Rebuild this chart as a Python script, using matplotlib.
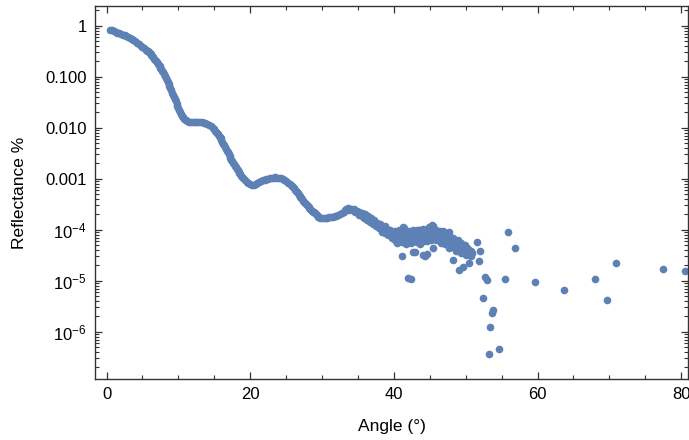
import numpy as np
import matplotlib
matplotlib.use("Agg")
import matplotlib.pyplot as plt
from matplotlib.ticker import FixedLocator, FixedFormatter, LogLocator, NullFormatter, MultipleLocator

plt.rcParams['font.family'] = ['Liberation Sans', 'DejaVu Sans']
plt.rcParams['mathtext.fontset'] = 'custom'
plt.rcParams['mathtext.rm'] = 'Liberation Sans'
plt.rcParams['mathtext.it'] = 'Liberation Sans:italic'
plt.rcParams['mathtext.default'] = 'regular'

# ---- smooth part of the reflectivity curve (angle in degrees, log10 reflectance) ----
curve_angle = [0.50, 0.75, 1.00, 1.25, 1.50, 1.75, 2.00, 2.25, 2.50, 2.75,
               3.00, 3.25, 3.50, 3.75, 4.00, 4.25, 4.50, 4.75, 5.00, 5.25,
               5.50, 5.75, 6.00, 6.25, 6.50, 6.75, 7.00, 7.25, 7.50, 7.75,
               8.00, 8.25, 8.50, 8.75, 9.00, 9.25, 9.50, 9.75, 10.00, 10.25,
               10.50, 10.75, 11.00, 11.25, 11.50, 11.75, 12.00, 12.25, 12.50, 12.75,
               13.00, 13.25, 13.50, 13.75, 14.00, 14.25, 14.50, 14.75, 15.00, 15.25,
               15.50, 15.75, 16.00, 16.25, 16.50, 16.75, 17.00, 17.25, 17.50, 17.75,
               18.00, 18.25, 18.50, 18.75, 19.00, 19.25, 19.50, 19.75, 20.00, 20.25,
               20.50, 20.75, 21.00, 21.25, 21.50, 21.75, 22.00, 22.25, 22.50, 22.75,
               23.00, 23.25, 23.50, 23.75, 24.00, 24.25, 24.50, 24.75, 25.00, 25.25,
               25.50, 25.75, 26.00, 26.25, 26.50, 26.75, 27.00, 27.25, 27.50, 27.75,
               28.00, 28.25, 28.50, 28.75, 29.00, 29.25, 29.50, 29.75, 30.00, 30.25,
               30.50, 30.75, 31.00, 31.25, 31.50, 31.75, 32.00, 32.25, 32.50, 32.75,
               33.00,
               5.625, 5.875, 6.125, 6.375, 6.625, 6.875, 7.125, 7.375, 7.625, 7.875,
               8.125, 8.375, 8.625, 8.875, 9.125, 9.375, 9.625, 9.875, 10.125, 10.375,
               10.625,
               15.125, 15.375, 15.625, 15.875, 16.125, 16.375, 16.625, 16.875, 17.125, 17.375,
               17.625, 17.875, 18.125, 18.375, 18.625, 18.875,
               25.875, 26.125, 26.375, 26.625, 26.875, 27.125, 27.375, 27.625, 27.875, 28.125,
               28.375, 28.625, 28.875, 29.125, 29.375]
curve_logR = [-0.075, -0.088, -0.100, -0.118, -0.135, -0.150, -0.165, -0.178, -0.190, -0.205,
              -0.220, -0.242, -0.265, -0.288, -0.310, -0.335, -0.360, -0.390, -0.420, -0.445,
              -0.470, -0.505, -0.540, -0.580, -0.620, -0.670, -0.720, -0.770, -0.820, -0.885,
              -0.950, -1.025, -1.100, -1.185, -1.270, -1.355, -1.440, -1.530, -1.620, -1.700,
              -1.770, -1.820, -1.850, -1.870, -1.880, -1.884, -1.885, -1.886, -1.887, -1.888,
              -1.890, -1.895, -1.900, -1.915, -1.930, -1.950, -1.970, -2.000, -2.030, -2.080,
              -2.130, -2.185, -2.240, -2.310, -2.380, -2.450, -2.520, -2.590, -2.660, -2.720,
              -2.780, -2.835, -2.890, -2.940, -2.990, -3.025, -3.060, -3.085, -3.110, -3.118,
              -3.120, -3.105, -3.090, -3.070, -3.050, -3.035, -3.020, -3.010, -3.000, -2.990,
              -2.980, -2.977, -2.975, -2.977, -2.980, -2.995, -3.010, -3.030, -3.050, -3.075,
              -3.100, -3.135, -3.170, -3.215, -3.260, -3.310, -3.360, -3.405, -3.450, -3.490,
              -3.530, -3.570, -3.610, -3.645, -3.680, -3.715, -3.750, -3.765, -3.780, -3.775,
              -3.770, -3.765, -3.760, -3.755, -3.750, -3.740, -3.730, -3.715, -3.700, -3.680,
              -3.660,
              -0.490, -0.520, -0.560, -0.600, -0.645, -0.695, -0.745, -0.795, -0.850, -0.915,
              -0.985, -1.060, -1.140, -1.225, -1.310, -1.395, -1.485, -1.575, -1.660, -1.735,
              -1.795,
              -2.055, -2.105, -2.155, -2.210, -2.275, -2.345, -2.415, -2.485, -2.555, -2.625,
              -2.690, -2.750, -2.810, -2.860, -2.915, -2.965,
              -3.150, -3.190, -3.240, -3.285, -3.335, -3.380, -3.430, -3.470, -3.510, -3.550,
              -3.590, -3.630, -3.660, -3.700, -3.730]

# ---- noisy part, 33-51 degrees ----
noisy_angle = [33.2, 33.4, 33.6, 33.8, 34.0, 34.2, 34.4, 34.6, 34.8, 35.0,
               35.2, 35.4, 35.6, 35.8, 36.0, 36.2, 36.4, 36.6, 36.8, 37.0,
               37.2, 37.4, 37.6, 37.8, 38.0,
               35.1, 35.5, 35.9, 36.3, 36.7, 37.1, 37.5, 37.9,
               38.1, 38.2, 38.3, 38.4, 38.5, 38.6, 38.7, 38.8, 38.9, 39.0,
               39.1, 39.2, 39.3, 39.4, 39.5, 39.6, 39.7, 39.8, 39.9, 40.0,
               40.1, 40.2, 40.3, 40.4, 40.5, 40.6, 40.7, 40.8, 40.9, 41.0,
               41.1, 41.2, 41.3, 41.4, 41.5, 41.6, 41.7, 41.8, 41.9, 42.0,
               42.1, 42.2, 42.3, 42.4, 42.5, 42.6, 42.7, 42.8, 42.9, 43.0,
               43.1, 43.2, 43.3, 43.4, 43.5, 43.6, 43.7, 43.8, 43.9, 44.0,
               44.1, 44.2, 44.3, 44.4, 44.5, 44.6, 44.7, 44.8, 44.9, 45.0,
               45.1, 45.2, 45.3, 45.4, 45.5, 45.6, 45.7, 45.8, 45.9, 46.0,
               46.1, 46.2, 46.3, 46.4, 46.5, 46.6, 46.7, 46.8, 46.9, 47.0,
               47.1, 47.2, 47.3, 47.4, 47.5, 47.6, 47.7, 47.8, 47.9, 48.0,
               48.1, 48.2, 48.3, 48.4, 48.5, 48.6, 48.7, 48.8, 48.9, 49.0,
               49.1, 49.2, 49.3, 49.4, 49.5, 49.6, 49.7, 49.8, 49.9, 50.0,
               50.1, 50.2, 50.3, 50.4, 50.5, 50.6, 50.7, 50.8]
noisy_logR = [-3.62, -3.60, -3.58, -3.61, -3.59, -3.62, -3.60, -3.65, -3.63, -3.67,
              -3.65, -3.70, -3.68, -3.72, -3.70, -3.75, -3.73, -3.78, -3.77, -3.83,
              -3.80, -3.88, -3.86, -3.92, -3.90,
              -3.72, -3.74, -3.77, -3.80, -3.84, -3.88, -3.93, -3.97,
              -3.89, -3.99, -3.95, -4.04, -3.94, -3.99, -3.93, -4.06, -4.01, -4.05,
              -3.98, -4.10, -4.02, -4.09, -4.01, -4.09, -4.16, -4.05, -4.14, -4.09,
              -4.02, -4.20, -4.09, -4.27, -4.05, -4.14, -4.00, -4.23, -4.12, -4.17,
              -4.04, -4.25, -4.07, -4.19, -4.01, -4.15, -4.28, -4.06, -4.21, -4.10,
              -4.02, -4.20, -4.09, -4.27, -4.05, -4.14, -4.00, -4.23, -4.12, -4.17,
              -4.04, -4.25, -4.07, -4.19, -4.01, -4.15, -4.28, -4.06, -4.21, -4.10,
              -3.99, -4.22, -4.11, -4.16, -4.01, -4.22, -4.02, -4.13, -3.94, -4.08,
              -4.20, -3.98, -4.12, -4.01, -3.94, -4.12, -4.03, -4.21, -4.01, -4.10,
              -4.21, -4.06, -4.17, -4.02, -4.26, -4.11, -4.17, -4.03, -4.23, -4.10,
              -4.28, -4.10, -4.19, -4.07, -4.26, -4.17, -4.36, -4.14, -4.26, -4.17,
              -4.34, -4.23, -4.17, -4.33, -4.23, -4.41, -4.22, -4.31, -4.21, -4.40,
              -4.29, -4.38, -4.26, -4.46, -4.34, -4.31, -4.44, -4.34, -4.42, -4.33,
              -4.50, -4.41, -4.37, -4.49, -4.41, -4.47, -4.42, -4.52]

# ---- isolated points ----
sparse_angle = [41.43, 41.07, 41.91, 42.32, 42.92, 44.31, 44.59, 45.47, 45.47, 43.24,
                43.86, 46.86, 47.70, 48.25, 49.05, 49.64, 49.88, 50.81, 51.51, 51.97,
                51.83, 50.44, 52.67, 52.98, 52.43, 53.82, 53.64, 53.36, 53.26, 54.61,
                55.87, 56.84, 55.45, 59.62, 63.66, 68.07, 69.65, 70.86, 77.44, 80.60,
                41.30, 43.60, 45.25, 42.69, 44.08, 50.58]
sparse_logR = [-3.973, -4.516, -4.941, -4.961, -4.431, -4.516, -4.476, -4.365, -3.927, -4.006,
               -4.020, -4.039, -4.051, -4.594, -4.790, -4.725, -4.300, -4.451, -4.241, -4.412,
               -4.608, -4.647, -4.933, -4.986, -5.333, -5.575, -5.627, -5.914, -6.431, -6.345,
               -4.039, -4.353, -4.973, -5.020, -5.182, -4.973, -5.384, -4.659, -4.771, -4.816,
               -3.940, -4.000, -3.910, -4.430, -4.496, -4.476]

y_tick_values = [1, 0.1, 0.01, 0.001, 1e-4, 1e-5, 1e-6]
y_tick_labels = ['1', '0.100', '0.010', '0.001', r'$10^{-4}$', r'$10^{-5}$', r'$10^{-6}$']
x_tick_values = [0, 20, 40, 60, 80]

angle = np.array(curve_angle + noisy_angle + sparse_angle)
refl = 10.0 ** np.array(curve_logR + noisy_logR + sparse_logR)

W, H = 689, 440
fig = plt.figure(figsize=(W / 100, H / 100), dpi=100)
ax = fig.add_axes([95 / W, 1 - 379 / H, (688 - 95) / W, (379 - 6) / H])

ax.plot(angle, refl, linestyle='none', marker='o', markersize=5.5,
        markeredgewidth=0, color='#5E81B5')

ax.set_yscale('log')
ax.set_xlim(-1.61, 80.95)
ax.set_ylim(10 ** -6.927, 10 ** 0.386)

ax.yaxis.set_major_locator(FixedLocator(y_tick_values))
ax.yaxis.set_major_formatter(FixedFormatter(y_tick_labels))
ax.yaxis.set_minor_locator(LogLocator(base=10, subs=range(2, 10), numticks=20))
ax.yaxis.set_minor_formatter(NullFormatter())
ax.xaxis.set_major_locator(FixedLocator(x_tick_values))
ax.xaxis.set_minor_locator(MultipleLocator(5))

ax.tick_params(which='both', direction='in', top=True, right=True, color='#333333')
ax.tick_params(which='major', length=5, width=0.9, labelsize=12, pad=6)
ax.tick_params(which='minor', length=3, width=0.8)
for s in ax.spines.values():
    s.set_linewidth(1.0)
    s.set_color('#333333')

ax.set_xlabel('Angle (°)', fontsize=12.5)
ax.set_ylabel('Reflectance %', fontsize=12.5)
ax.xaxis.set_label_coords(0.5, -0.108)
ax.yaxis.set_label_coords(-0.115, 0.5)

fig.savefig('out.png', dpi=100)
